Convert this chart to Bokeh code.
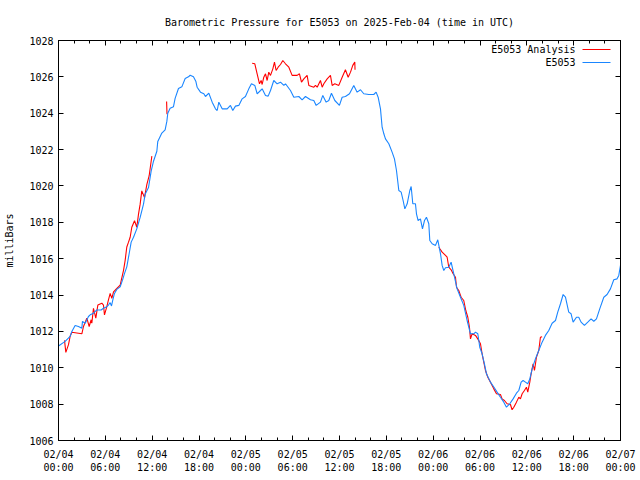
from bokeh.plotting import figure
from bokeh.models import FixedTicker, LinearAxis, Label, BoxAnnotation
from bokeh.embed import file_html
from bokeh.resources import INLINE

FONT = "DejaVu Sans Mono"

# ---- data (hours after 2025-02-04 00:00 UTC, pressure in millibars) ----
blue_hours = [
    0.0, 0.85, 1.49, 1.71, 2.13, 2.56, 2.99, 3.07, 3.42, 3.84,
    4.06, 4.48, 4.91, 5.47, 5.76, 6.19, 6.40, 6.62, 6.79, 6.96,
    7.17, 7.47, 7.90, 8.20, 8.45, 8.75, 9.05, 9.31, 9.61, 10.03,
    10.46, 10.89, 11.10, 11.53, 11.87, 12.17, 12.60, 12.72, 13.24, 13.66,
    13.88, 14.00, 14.30, 14.73, 14.94, 15.37, 15.80, 16.23, 16.65, 16.87,
    17.29, 17.59, 17.76, 18.19, 18.62, 18.83, 19.26, 19.69, 20.11, 20.33,
    20.54, 20.97, 21.61, 22.03, 22.33, 22.67, 23.10, 23.53, 23.95, 24.38,
    24.72, 25.15, 25.45, 25.88, 26.09, 26.52, 26.86, 27.16, 27.58, 28.01,
    28.44, 28.87, 29.08, 29.72, 30.15, 30.79, 31.21, 31.64, 32.28, 32.71,
    33.01, 33.56, 33.86, 34.29, 34.63, 34.97, 35.40, 35.99, 36.34, 36.76,
    37.28, 37.83, 38.26, 38.69, 39.11, 39.75, 40.39, 40.69, 40.95, 41.25,
    41.46, 41.68, 41.89, 42.32, 42.74, 43.04, 43.30, 43.60, 43.90, 44.15,
    44.37, 44.67, 45.01, 45.18, 45.39, 45.73, 45.86, 46.07, 46.37, 46.63,
    46.89, 47.14, 47.44, 47.57, 47.87, 48.30, 48.59, 48.94, 49.15, 49.36,
    49.58, 50.00, 50.30, 50.64, 51.07, 51.50, 51.92, 52.35, 52.78, 53.21,
    53.42, 53.72, 53.97, 54.27, 54.57, 54.83, 55.34, 55.77, 56.19, 56.62,
    57.05, 57.39, 57.82, 58.24, 58.67, 58.97, 59.27, 59.52, 59.82, 60.12,
    60.38, 60.68, 61.10, 61.53, 61.96, 62.38, 62.81, 63.24, 63.67, 63.96,
    64.31, 64.65, 64.95, 65.37, 65.67, 65.93, 66.36, 66.65, 66.95, 67.38,
    67.81, 68.23, 68.58, 68.92, 69.34, 69.86, 70.28, 70.71, 71.14, 71.56,
    71.78, 72.00,
]
blue_mb = [
    1011.20, 1011.45, 1011.73, 1012.00, 1012.33, 1012.27, 1012.18, 1012.55, 1012.45, 1012.82,
    1012.91, 1013.00, 1013.18, 1013.18, 1013.27, 1013.36, 1013.45, 1013.58, 1013.40, 1013.73,
    1014.09, 1014.31, 1014.45, 1014.82, 1015.18, 1015.55, 1016.27, 1016.91, 1017.18, 1017.64,
    1018.27, 1019.00, 1019.55, 1019.91, 1020.82, 1021.36, 1021.91, 1022.45, 1022.91, 1023.09,
    1023.55, 1024.00, 1024.27, 1024.36, 1024.82, 1025.36, 1025.45, 1025.91, 1026.00, 1026.09,
    1026.00, 1025.76, 1025.43, 1025.16, 1025.07, 1024.92, 1025.10, 1024.61, 1024.24, 1024.15,
    1024.61, 1024.24, 1024.24, 1024.43, 1024.15, 1024.39, 1024.43, 1024.79, 1024.92, 1025.34,
    1025.62, 1025.53, 1025.07, 1025.25, 1025.34, 1024.98, 1024.94, 1025.25, 1025.80, 1025.62,
    1025.71, 1025.53, 1025.62, 1025.25, 1024.88, 1024.92, 1024.74, 1024.92, 1024.74, 1024.70,
    1024.43, 1024.61, 1024.98, 1024.61, 1024.70, 1025.10, 1024.70, 1024.43, 1024.88, 1024.92,
    1025.07, 1025.53, 1025.16, 1025.29, 1025.07, 1025.03, 1025.03, 1025.16, 1024.88, 1024.24,
    1023.23, 1022.87, 1022.59, 1022.32, 1021.86, 1021.49, 1020.85, 1019.75, 1019.66, 1019.20,
    1018.74, 1019.02, 1019.75, 1019.97, 1019.02, 1019.02, 1018.47, 1018.10, 1018.19, 1017.64,
    1018.10, 1018.28, 1017.92, 1017.00, 1016.82, 1016.73, 1017.04, 1016.27, 1015.63, 1015.35,
    1015.50, 1015.53, 1015.81, 1015.17, 1014.34, 1013.88, 1013.43, 1012.60, 1011.87, 1011.87,
    1011.96, 1011.87, 1011.13, 1010.77, 1010.22, 1009.67, 1009.21, 1008.94, 1008.66, 1008.38,
    1008.11, 1007.83, 1008.02, 1008.29, 1008.60, 1008.75, 1009.21, 1009.30, 1009.21, 1009.12,
    1009.39, 1009.94, 1010.49, 1010.95, 1011.41, 1011.78, 1012.05, 1012.45, 1012.60, 1013.06,
    1013.52, 1014.03, 1013.88, 1013.06, 1012.97, 1012.51, 1012.78, 1012.78, 1012.51, 1012.33,
    1012.51, 1012.69, 1012.56, 1012.69, 1013.24, 1013.88, 1014.03, 1014.34, 1014.84, 1014.89,
    1015.08, 1015.63,
]

# Analysis series, in separate runs (gaps between them)
red1_hours = [
    0.77, 0.94, 1.28, 1.49, 1.71, 2.35, 2.99, 3.20, 3.63, 3.93,
    4.18, 4.27, 4.48, 4.78, 5.04, 5.55, 5.76, 5.89, 6.19, 6.40,
    6.62, 6.83, 7.05, 7.47, 7.90, 8.33, 8.54, 8.75, 8.97, 9.18,
    9.39, 9.74, 10.03, 10.25, 10.46, 10.67, 11.02, 11.32, 11.61, 11.87,
    11.96,
]
red1_mb = [
    1011.51, 1010.85, 1011.27, 1011.73, 1011.95, 1011.91, 1011.87, 1012.27, 1012.73, 1012.27,
    1012.64, 1012.45, 1013.27, 1012.73, 1013.45, 1013.55, 1013.45, 1012.91, 1013.36, 1013.73,
    1014.09, 1013.82, 1014.18, 1014.36, 1014.55, 1015.36, 1015.91, 1016.64, 1016.91, 1017.18,
    1017.73, 1018.09, 1017.73, 1018.45, 1019.00, 1019.73, 1019.36, 1020.09, 1020.55, 1021.36,
    1021.64,
]
red2_hours = [13.85, 13.90]
red2_mb = [1024.64, 1023.95]
red3_hours = [
    24.81, 25.15, 25.45, 25.75, 25.96, 26.09, 26.30, 26.52, 26.73, 26.94,
    27.16, 27.46, 27.67, 27.88, 28.14, 28.44, 28.74, 29.08, 29.51, 29.93,
    30.57, 30.87, 31.13, 31.43, 31.85, 32.07, 32.71, 32.92, 33.14, 33.56,
    33.78, 33.99, 34.42, 34.84, 35.06, 35.40, 35.91, 36.34, 36.76, 37.11,
    37.41, 37.70, 37.96, 37.99,
]
red3_mb = [
    1026.75, 1026.72, 1026.17, 1025.62, 1025.80, 1025.58, 1025.98, 1026.17, 1025.80, 1026.26,
    1026.08, 1026.44, 1026.81, 1026.35, 1026.53, 1026.68, 1026.90, 1026.72, 1026.53, 1026.08,
    1026.08, 1026.17, 1025.71, 1025.89, 1026.08, 1025.53, 1025.43, 1025.53, 1025.43, 1025.80,
    1025.43, 1025.62, 1025.89, 1026.08, 1025.53, 1025.62, 1025.53, 1025.98, 1026.39, 1025.98,
    1026.26, 1026.63, 1026.81, 1026.39,
]
red4_hours = [
    48.72, 49.15, 49.58, 49.79, 50.00, 50.30, 50.56, 50.86, 50.99, 51.28,
    51.58, 51.92, 52.18, 52.44, 52.65, 52.78, 52.99, 53.42, 53.72, 54.06,
    54.27, 54.70, 55.00, 55.34, 55.77, 56.11, 56.62, 56.83, 57.13, 57.47,
    57.90, 58.11, 58.33, 58.67, 58.97, 59.18, 59.40, 59.69, 59.95, 60.12,
    60.38, 60.55, 60.80, 60.98, 61.23, 61.53, 61.74, 61.96,
]
red4_mb = [
    1016.63, 1016.36, 1016.18, 1016.08, 1015.53, 1015.39, 1015.17, 1014.98, 1014.43, 1014.25,
    1013.88, 1013.70, 1013.15, 1012.78, 1012.23, 1011.59, 1011.87, 1011.78, 1011.59, 1011.32,
    1010.77, 1009.85, 1009.48, 1009.21, 1008.84, 1008.57, 1008.53, 1008.29, 1008.20, 1008.02,
    1007.98, 1007.69, 1007.83, 1008.11, 1008.38, 1008.29, 1008.57, 1008.75, 1008.93, 1008.66,
    1009.21, 1009.67, 1010.22, 1009.85, 1010.58, 1010.95, 1011.68, 1011.71,
]

x_tick_hours = [0, 6, 12, 18, 24, 30, 36, 42, 48, 54, 60, 66, 72]
x_tick_labels = [
    "02/04\n00:00", "02/04\n06:00", "02/04\n12:00", "02/04\n18:00",
    "02/05\n00:00", "02/05\n06:00", "02/05\n12:00", "02/05\n18:00",
    "02/06\n00:00", "02/06\n06:00", "02/06\n12:00", "02/06\n18:00",
    "02/07\n00:00",
]
x_minor_hours = list(range(0, 73, 2))
y_ticks = [1006, 1008, 1010, 1012, 1014, 1016, 1018, 1020, 1022, 1024, 1026, 1028]

title_text = "Barometric Pressure for E5053 on 2025-Feb-04 (time in UTC)"
series_names = ["E5053 Analysis", "E5053"]
series_colors = ["#ff0000", "#1a86ff"]

# ---- figure ----
p = figure(width=636, height=476, x_range=(0, 72), y_range=(1006, 1028),
           output_backend="svg", toolbar_location=None,
           min_border_left=58, min_border_right=16,
           min_border_top=40, min_border_bottom=36)
p.background_fill_color = "white"
p.border_fill_color = "white"
p.outline_line_color = "black"
p.outline_line_width = 1
p.grid.visible = False

p.title.text = title_text
p.title.align = "center"
p.title.text_font = FONT
p.title.text_font_size = "10px"
p.title.text_font_style = "normal"
p.title.text_color = "black"
p.title.standoff = 25

nan = float("nan")
red_hours = red1_hours + [nan] + red2_hours + [nan] + red3_hours + [nan] + red4_hours
red_mb = red1_mb + [nan] + red2_mb + [nan] + red3_mb + [nan] + red4_mb

p.line(red_hours, red_mb, line_color=series_colors[0], line_width=1.1)
p.line(blue_hours, blue_mb, line_color=series_colors[1], line_width=1.1)


def style_axis(ax, show_labels=True):
    ax.axis_line_color = "black"
    ax.major_tick_line_color = "black"
    ax.minor_tick_line_color = "black"
    ax.major_tick_in = 5
    ax.major_tick_out = 0
    ax.minor_tick_in = 3
    ax.minor_tick_out = 0
    ax.major_label_text_font = FONT
    if show_labels:
        ax.major_label_text_font_size = "10px"
        ax.major_label_text_color = "black"
    else:
        ax.major_label_text_font_size = "1px"
        ax.major_label_text_color = None
        ax.major_label_standoff = 0


xax = p.xaxis[0]
xax.ticker = FixedTicker(ticks=x_tick_hours, minor_ticks=x_minor_hours)
xax.major_label_overrides = {h: lab for h, lab in zip(x_tick_hours, x_tick_labels)}
style_axis(xax)
xax.major_label_standoff = 8

yax = p.yaxis[0]
yax.ticker = FixedTicker(ticks=y_ticks, minor_ticks=[])
style_axis(yax)
yax.major_label_standoff = 5
yax.axis_label = "milliBars"
yax.axis_label_text_font = FONT
yax.axis_label_text_font_size = "10px"
yax.axis_label_text_font_style = "normal"
yax.axis_label_text_color = "black"
yax.axis_label_standoff = 11

top_ax = LinearAxis(ticker=FixedTicker(ticks=x_tick_hours, minor_ticks=x_minor_hours))
style_axis(top_ax, show_labels=False)
p.add_layout(top_ax, "above")

right_ax = LinearAxis(ticker=FixedTicker(ticks=y_ticks, minor_ticks=[]))
style_axis(right_ax, show_labels=False)
p.add_layout(right_ax, "right")

# ---- gnuplot-style key (label, then line sample) ----
key_rows_y = [391, 378]
for name, color, ky in zip(series_names, series_colors, key_rows_y):
    p.add_layout(Label(x=517, y=ky, x_units="screen", y_units="screen", text=name,
                       text_align="right", text_baseline="middle",
                       text_font=FONT, text_font_size="10px", text_color="black"))
    p.add_layout(BoxAnnotation(left=524, right=552, bottom=ky - 0.5, top=ky + 0.5,
                               left_units="screen", right_units="screen",
                               bottom_units="screen", top_units="screen",
                               fill_color=color, fill_alpha=1.0, line_alpha=0,
                               hover_fill_alpha=1.0))

open("out.html", "w").write(file_html(p, INLINE))
